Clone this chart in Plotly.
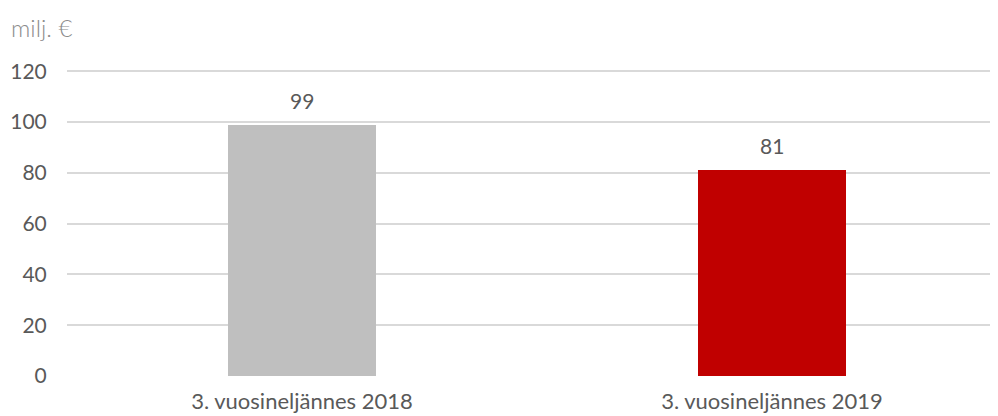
import plotly.graph_objects as go

categories = ["3. vuosineljännes 2018", "3. vuosineljännes 2019"]
values = [99, 81]
bar_colors = ["#BFBFBF", "#C00000"]
y_ticks = [0, 20, 40, 60, 80, 100, 120]

FONT = "Lato"
TXT = "#595959"
FS = 21

# page body has an 8px margin, so the figure is laid out 8px smaller
W, H = 990, 408
L, T, B = 59, 62, 40
PW = W - L
PH = H - T - B

fig = go.Figure()
fig.add_trace(go.Bar(
    x=[0, 1], y=values,
    marker=dict(color=bar_colors, line=dict(width=0)),
    width=0.315,
    hoverinfo="skip",
))

annotations = [
    dict(x=i, y=v, xref="x", yref="y", text=str(v), showarrow=False,
         yanchor="bottom", yshift=10,
         font=dict(family=FONT, size=FS, color=TXT))
    for i, v in enumerate(values)
]
annotations.append(dict(
    text="milj. €", xref="paper", yref="paper",
    x=-L / PW, y=1 + (T - 19) / PH, xanchor="left", yanchor="middle",
    showarrow=False, xshift=1,
    font=dict(family=FONT, size=24, color="#8C8C8C", weight=300),
))

fig.update_layout(
    width=W, height=H,
    margin=dict(l=L, r=0, t=T, b=B, autoexpand=False),
    plot_bgcolor="white", paper_bgcolor="white",
    showlegend=False,
    bargap=0,
    xaxis=dict(
        range=[-0.5, -0.5 + PW / 470],
        tickmode="array", tickvals=[0, 1], ticktext=categories,
        showgrid=False, zeroline=False, showline=False,
        ticks="outside", ticklen=6, tickcolor="rgba(0,0,0,0)",
        tickfont=dict(family=FONT, size=22, color=TXT),
        automargin=False,
    ),
    yaxis=dict(
        range=[0, 120.5],
        tickmode="array", tickvals=y_ticks,
        showgrid=True, gridcolor="#D9D9D9", gridwidth=1.5,
        zeroline=False, showline=False,
        ticks="outside", ticklen=15, tickcolor="rgba(0,0,0,0)",
        tickfont=dict(family=FONT, size=FS, color=TXT),
        automargin=False,
    ),
    annotations=annotations,
)

fig.write_html("out.html")
